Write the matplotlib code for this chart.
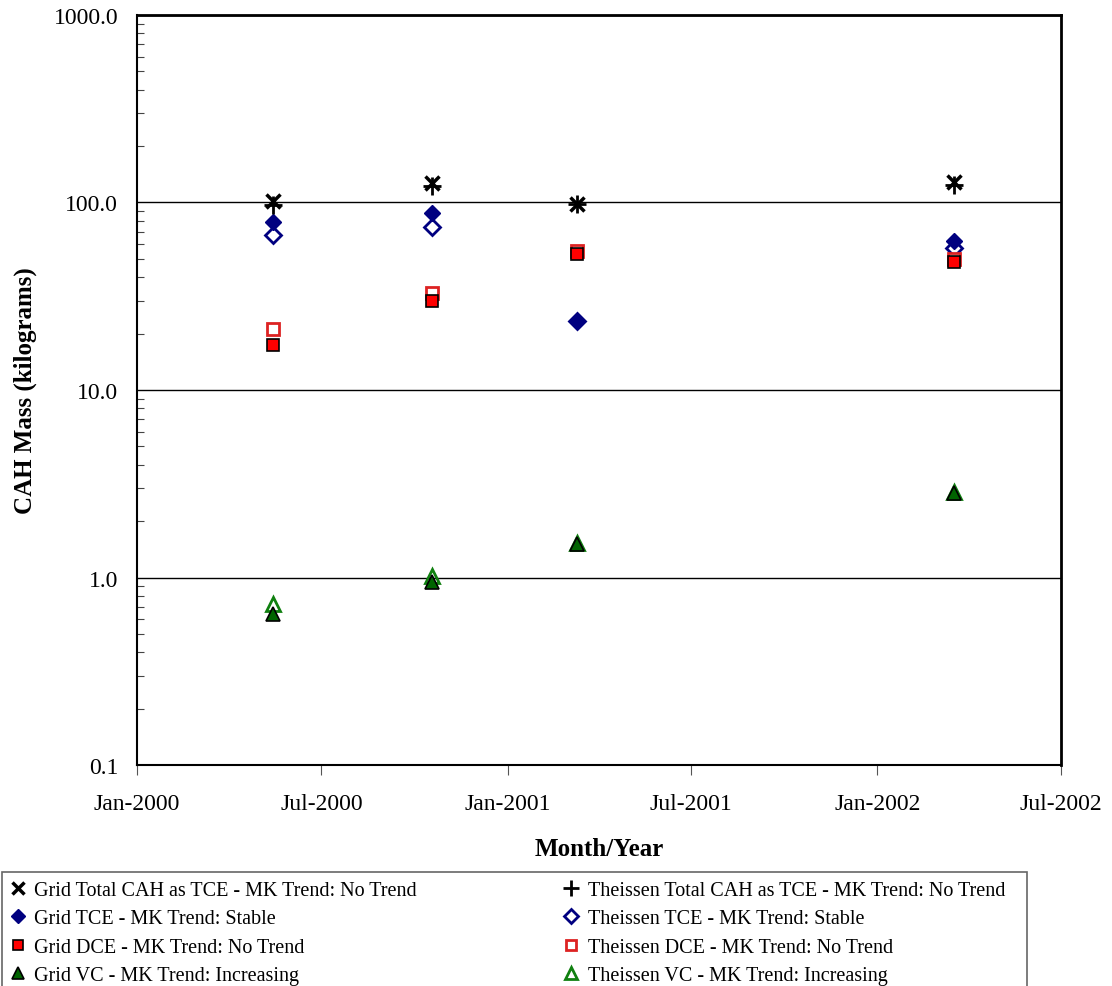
import datetime as dt
import matplotlib
matplotlib.use("Agg")
import matplotlib.pyplot as plt
import matplotlib.dates as mdates
from matplotlib.patches import Rectangle
from matplotlib.ticker import LogLocator, FormatStrFormatter, NullFormatter, NullLocator

plt.rcParams['font.family'] = ['Liberation Serif', 'DejaVu Serif']

# sampling dates
dates = [dt.date(2000, 5, 14), dt.date(2000, 10, 18), dt.date(2001, 3, 10), dt.date(2002, 3, 18)]

# CAH mass (kg)
grid_total = [102, 127, 98, 129]
theissen_total = [97, 122, 98, 124]
grid_tce = [79, 88, 23.2, 62]
theissen_tce = [67, 74, 23.2, 57]
grid_dce = [17.4, 30, 53, 48]
theissen_dce = [21.1, 33, 55, 50]
grid_vc = [0.64, 0.95, 1.50, 2.82]
theissen_vc = [0.72, 1.02, 1.53, 2.85]

labels = ["Grid Total CAH as TCE - MK Trend: No Trend",
          "Grid TCE - MK Trend: Stable",
          "Grid DCE - MK Trend: No Trend",
          "Grid VC - MK Trend: Increasing",
          "Theissen Total CAH as TCE - MK Trend: No Trend",
          "Theissen TCE - MK Trend: Stable",
          "Theissen DCE - MK Trend: No Trend",
          "Theissen VC - MK Trend: Increasing"]

fig = plt.figure(figsize=(11.12, 9.87), dpi=100)
ax = fig.add_axes([0.1232, 0.2239, 0.8308, 0.7599])

navy = '#000080'
ax.plot(dates, grid_total, ls='none', marker='x', ms=10, mew=2.5, color='black', label=labels[0], zorder=6)
ax.plot(dates, grid_tce, ls='none', marker='D', ms=8, color=navy, mec=navy, label=labels[1], zorder=5)
ax.plot(dates, grid_dce, ls='none', marker='s', ms=9, color='#ff0000', mec='black', mew=1.2, label=labels[2], zorder=5)
ax.plot(dates, grid_vc, ls='none', marker='^', ms=9.5, color='#006400', mec='black', mew=1.2, label=labels[3], zorder=5)
ax.plot(dates, theissen_total, ls='none', marker='+', ms=13, mew=2, color='black', label=labels[4], zorder=6)
ax.plot(dates, theissen_tce, ls='none', marker='D', ms=8, mfc='white', mec=navy, mew=2, label=labels[5], zorder=4)
ax.plot(dates, theissen_dce, ls='none', marker='s', ms=9, mfc='white', mec='#dd2222', mew=2, label=labels[6], zorder=4)
ax.plot(dates, theissen_vc, ls='none', marker='^', ms=9.5, mfc='none', mec='#108010', mew=2, label=labels[7], zorder=4)

ax.set_yscale('log')
ax.set_ylim(0.1, 1000)
ax.yaxis.set_major_locator(LogLocator(base=10, numticks=10))
ax.yaxis.set_major_formatter(FormatStrFormatter('%.1f'))
ax.yaxis.set_minor_locator(LogLocator(base=10, subs=range(2, 10), numticks=10))
ax.yaxis.set_minor_formatter(NullFormatter())
ax.tick_params(axis='y', which='major', direction='in', length=0, labelsize=17, pad=13.5)
ax.tick_params(axis='y', which='minor', direction='in', length=5, width=0.8, color='#444444')
ax.grid(True, axis='y', which='major', color='black', lw=1)

xticks = [dt.date(2000, 1, 1), dt.date(2000, 7, 1), dt.date(2001, 1, 1),
          dt.date(2001, 7, 1), dt.date(2002, 1, 1), dt.date(2002, 7, 1)]
ax.set_xlim(xticks[0], xticks[-1])
ax.set_xticks(xticks)
ax.xaxis.set_major_formatter(mdates.DateFormatter('%b-%Y'))
ax.tick_params(axis='x', which='major', direction='out', length=7, color='#555555', labelsize=17, pad=13)
ax.xaxis.set_minor_locator(NullLocator())

for side in ['left', 'bottom']:
    ax.spines[side].set_linewidth(1.5)
for side in ['top', 'right']:
    ax.spines[side].set_linewidth(2)

ax.set_xlabel('Month/Year', fontsize=18, fontweight='bold', labelpad=17)
ax.set_ylabel('CAH Mass (kilograms)', fontsize=18, fontweight='bold', labelpad=12)

# legend box, drawn by hand so it runs past the bottom edge like the original
fig.patches.append(Rectangle((0.002, -0.01), 0.922, 0.1255, transform=fig.transFigure,
                             fill=False, edgecolor='#666666', lw=1.2))
leg = fig.legend(loc='upper left', bbox_to_anchor=(0.005, 0.113),
                 ncol=2, fontsize=14.5, frameon=False,
                 handlelength=0.6, handletextpad=0.5, columnspacing=7.4,
                 labelspacing=0.47, borderpad=0.3, borderaxespad=0, markerscale=0.85)

fig.savefig('out.png', dpi=100)
